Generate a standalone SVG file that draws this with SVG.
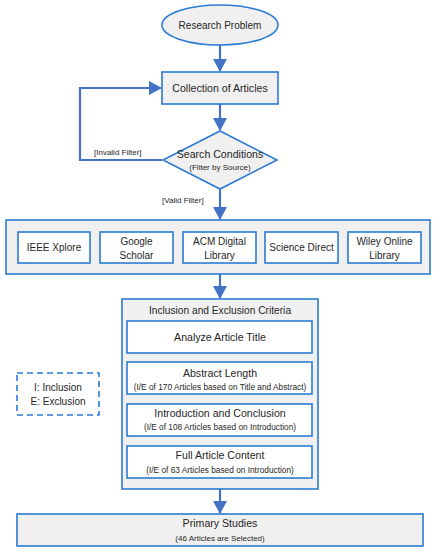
<svg xmlns="http://www.w3.org/2000/svg" width="437" height="550" viewBox="0 0 437 550">
<defs>
<marker id="ah" viewBox="0 0 13 14" refX="12" refY="7" markerWidth="13" markerHeight="14" markerUnits="userSpaceOnUse" orient="auto">
<path d="M0,0 L13,7 L0,14 z" fill="#4472c4"/>
</marker>
<style>
.box{fill:#f0f0f0;stroke:#2a7bd3;stroke-width:1.6}
.wbox{fill:#ffffff;stroke:#2a7bd3;stroke-width:1.6}
.conn{fill:none;stroke:#4472c4;stroke-width:2.2}
text{font-family:"Liberation Sans",Arial,sans-serif;fill:#262626;text-anchor:middle}
.t{font-size:10px}
.m{font-size:10.6px}
.s{font-size:8px}
.ss{font-size:8.3px}
.h{font-size:10.2px}
.l{font-size:8px;text-anchor:start}
</style>
</defs>
<rect width="437" height="550" fill="#ffffff"/>
<g id="connectors">
<path class="conn" d="M220,45 V71" marker-end="url(#ah)"/>
<path class="conn" d="M220,104 V130" marker-end="url(#ah)"/>
<path class="conn" d="M162,160 H80 V88 H161" marker-end="url(#ah)"/>
<path class="conn" d="M220,189 V219" marker-end="url(#ah)"/>
<path class="conn" d="M220,274 V298" marker-end="url(#ah)"/>
<path class="conn" d="M220,489 V513" marker-end="url(#ah)"/>
<text class="l" x="94" y="155">[Invalid Filter]</text>
<text class="l" x="162" y="203">[Valid Filter]</text>
</g>
<g id="research-problem">
<ellipse class="box" cx="220" cy="25" rx="58" ry="20"/>
<text class="t" x="220" y="28.5">Research Problem</text>
</g>
<g id="collection">
<rect class="box" x="162" y="72" width="116" height="32"/>
<text class="m" x="220" y="91.5">Collection of Articles</text>
</g>
<g id="search-conditions">
<polygon class="box" points="220,131 277,160 220,189 163,160"/>
<text class="m" x="220" y="158">Search Conditions</text>
<text class="s" x="220" y="170">(Filter by Source)</text>
</g>
<g id="sources">
<rect class="box" x="6" y="220" width="424" height="54"/>
<g id="ieee"><rect class="wbox" x="18" y="232" width="72" height="31"/><text class="t" x="54" y="251">IEEE Xplore</text></g>
<g id="google"><rect class="wbox" x="100" y="232" width="73" height="31"/><text class="t" x="136.5" y="244.5">Google</text><text class="t" x="136.5" y="258.5">Scholar</text></g>
<g id="acm"><rect class="wbox" x="183" y="232" width="73" height="31"/><text class="t" x="219.5" y="244.5">ACM Digital</text><text class="t" x="219.5" y="258.5">Library</text></g>
<g id="sciencedirect"><rect class="wbox" x="265" y="232" width="73" height="31"/><text class="t" x="301.5" y="251">Science Direct</text></g>
<g id="wiley"><rect class="wbox" x="348" y="232" width="73" height="31"/><text class="t" x="384.5" y="244.5">Wiley Online</text><text class="t" x="384.5" y="258.5">Library</text></g>
</g>
<g id="criteria">
<rect class="box" x="122" y="299" width="196" height="190"/>
<text class="h" x="220" y="314">Inclusion and Exclusion Criteria</text>
<g id="title"><rect class="wbox" x="127" y="321" width="185" height="32"/><text class="m" x="220" y="340.5">Analyze Article Title</text></g>
<g id="abstract"><rect class="wbox" x="127" y="362" width="185" height="32"/><text class="m" x="220" y="376.5">Abstract Length</text><text class="ss" x="220" y="389.5">(I/E of 170 Articles based on Title and Abstract)</text></g>
<g id="intro"><rect class="wbox" x="127" y="404" width="185" height="32"/><text class="m" x="220" y="416.5">Introduction and Conclusion</text><text class="ss" x="220" y="430">(I/E of 108 Articles based on Introduction)</text></g>
<g id="full"><rect class="wbox" x="127" y="446" width="185" height="32"/><text class="m" x="220" y="458.5">Full Article Content</text><text class="ss" x="220" y="472.5">(I/E of 63 Articles based on Introduction)</text></g>
</g>
<g id="legend">
<rect x="17" y="373" width="82" height="42" fill="#ffffff" stroke="#2a7bd3" stroke-width="1.6" stroke-dasharray="6,4"/>
<text class="t" x="58" y="390.5">I: Inclusion</text>
<text class="t" x="58" y="404.5">E: Exclusion</text>
</g>
<g id="primary">
<rect class="box" x="17" y="514" width="406" height="32"/>
<text class="m" x="220" y="526.5">Primary Studies</text>
<text class="s" x="220" y="540.5">(46 Articles are Selected)</text>
</g>
</svg>
